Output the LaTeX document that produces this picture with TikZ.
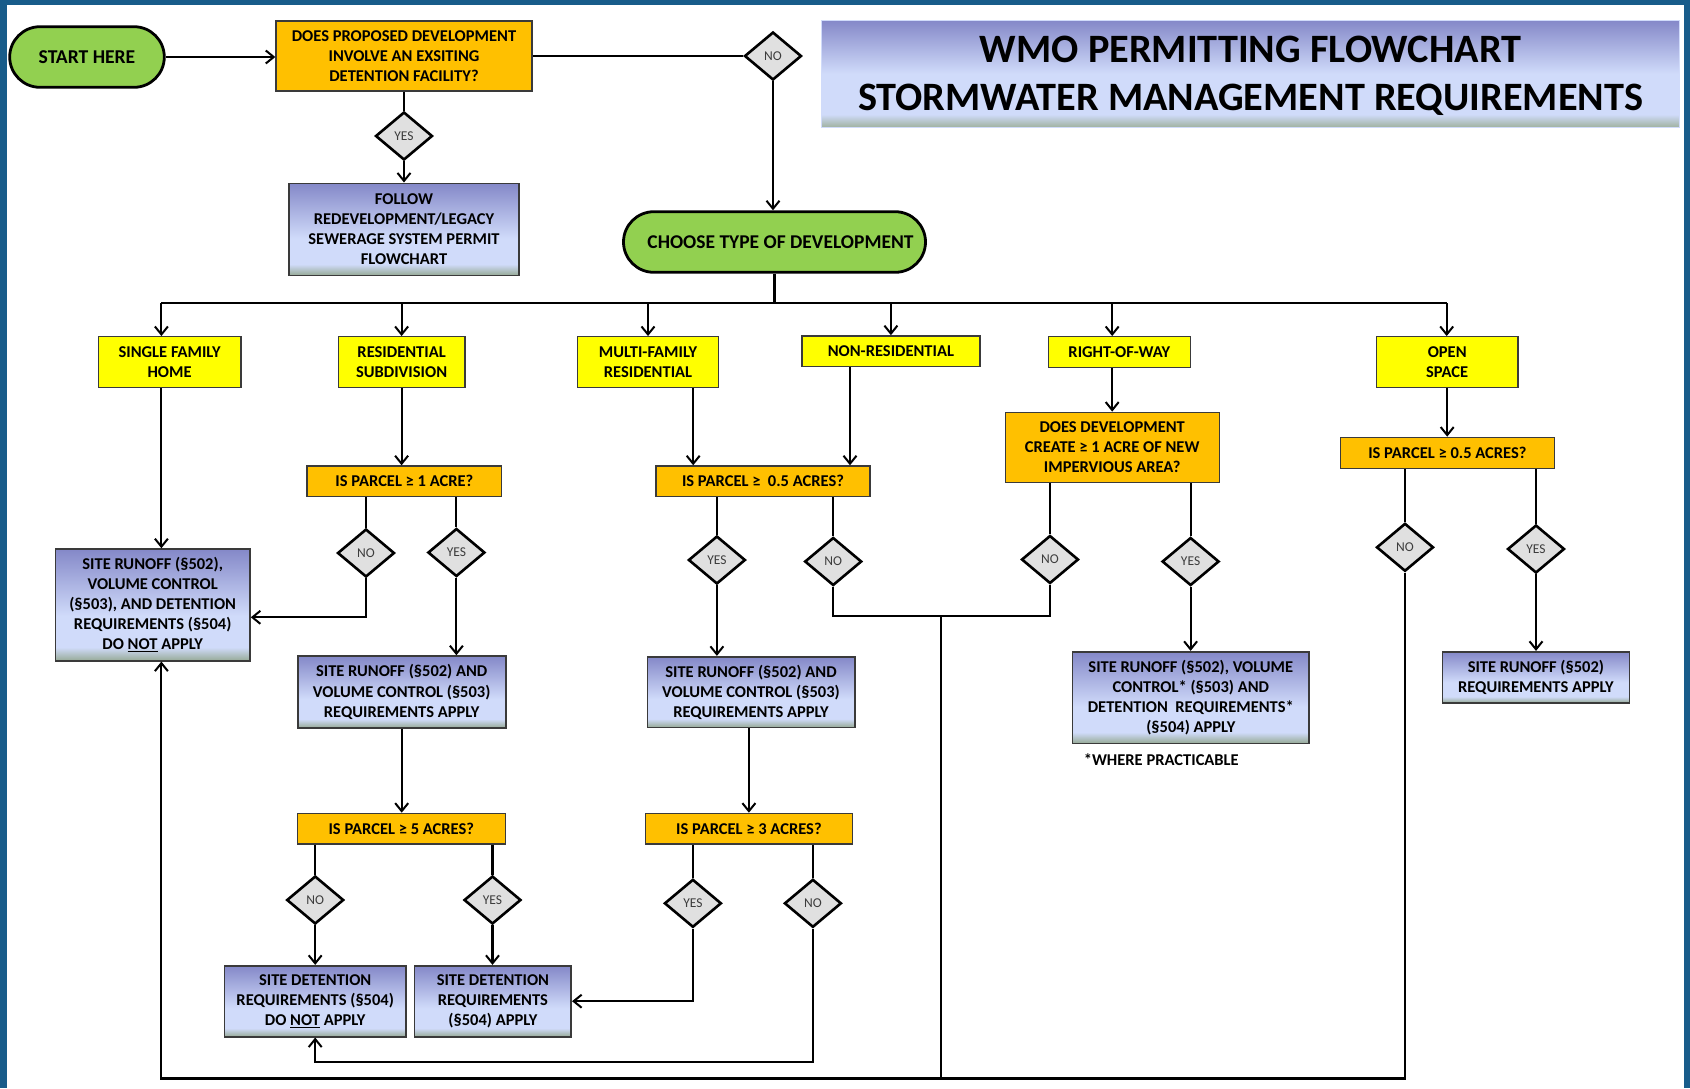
\documentclass[tikz,border=0pt]{standalone}
\usepackage{fontspec}
\setmainfont{Carlito}
\usetikzlibrary{shapes.geometric,shapes.misc,arrows.meta}
\definecolor{framecol}{RGB}{24,92,138}
\definecolor{tgreen}{RGB}{146,208,80}
\definecolor{qorange}{RGB}{255,192,0}
\definecolor{cyellow}{RGB}{255,255,0}
\definecolor{dgray}{RGB}{224,224,224}
\definecolor{diatext}{RGB}{60,60,60}
\definecolor{edgegray}{RGB}{58,58,58}
\definecolor{rpurple}{RGB}{132,136,200}
\definecolor{rlight}{RGB}{208,219,250}
\definecolor{rgreen}{RGB}{150,170,150}
\definecolor{tlgreen}{RGB}{160,178,160}
\pgfdeclareverticalshading{resshade}{100bp}{color(0bp)=(rgreen); color(25bp)=(rgreen); color(31bp)=(rlight); color(45bp)=(rlight); color(75bp)=(rpurple); color(100bp)=(rpurple)}
\pgfdeclareverticalshading{titleshade}{100bp}{color(0bp)=(tlgreen); color(25bp)=(tlgreen); color(31bp)=(rlight); color(50bp)=(rlight); color(75bp)=(rpurple); color(100bp)=(rpurple)}
\newcommand{\bxf}{\fontsize{16.5}{20}\selectfont\bfseries}
\tikzset{
  conn/.style={line width=2.1pt, draw=black},
  arr/.style={conn, -{Straight Barb[length=8pt,width=13pt,line width=2pt]}},
  term/.style={rounded rectangle, rounded rectangle arc length=180, fill=tgreen, draw=black, line width=2.8pt, inner sep=0pt},
  basebox/.style={rectangle, inner sep=0pt, align=center, font=\bxf},
  qbox/.style={basebox, fill=qorange, draw=edgegray, line width=1.3pt},
  cbox/.style={basebox, fill=cyellow, draw=edgegray, line width=1.3pt},
  rbox/.style={basebox, shading=resshade, draw=edgegray, line width=1.6pt},
  dia/.style={diamond, fill=dgray, draw=black, line width=2.6pt, minimum width=57pt, minimum height=48pt, inner sep=0pt, font=\fontsize{13.5}{15}\selectfont, text=diatext},
}
\begin{document}
\begin{tikzpicture}[x=1pt,y=-1pt]
\useasboundingbox (0,0) rectangle (1690,1088);
\fill[framecol] (0,0) rectangle (1690,1088);
\fill[white] (7,5) rectangle (1684,1088);

% top
\node[term, minimum width=154.6pt, minimum height=60.6pt, font=\fontsize{19.6}{22}\selectfont\bfseries] (start) at (87,57) {START HERE};
\node[qbox, minimum width=256pt, minimum height=70pt] (q1) at (404,56) {DOES PROPOSED DEVELOPMENT\\INVOLVE AN EXSITING\\DETENTION FACILITY?};
\node[dia] (nod) at (773,56) {NO};
\node[dia] (yesd) at (404,136) {YES};
\node[rbox, minimum width=230pt, minimum height=92pt] (follow) at (404,229.3) {FOLLOW\\REDEVELOPMENT/LEGACY\\SEWERAGE SYSTEM PERMIT\\FLOWCHART};
\node[basebox, shading=titleshade, draw=rlight, line width=1pt, minimum width=858pt, minimum height=107pt] (title) at (1250.6,73.7) {};
\node[basebox, font=\fontsize{40.3}{48}\selectfont\bfseries] (titletext) at (1250.6,76) {WMO PERMITTING FLOWCHART\\STORMWATER MANAGEMENT REQUIREMENTS};
\node[term, minimum width=302pt, minimum height=60.6pt, font=\fontsize{19.5}{23}\selectfont\bfseries] (choose) at (774.5,242) {\hspace*{12pt}CHOOSE TYPE OF DEVELOPMENT};

% categories
\node[cbox, minimum width=142.8pt, minimum height=51pt] (sfh) at (169.6,362.2) {SINGLE FAMILY\\HOME};
\node[cbox, minimum width=126.8pt, minimum height=51pt] (rsub) at (401.6,362.2) {RESIDENTIAL\\SUBDIVISION};
\node[cbox, minimum width=141.6pt, minimum height=51pt] (mfr) at (648,362.2) {MULTI-FAMILY\\RESIDENTIAL};
\node[cbox, minimum width=178pt, minimum height=30.3pt] (nonres) at (890.9,351) {NON-RESIDENTIAL};
\node[cbox, minimum width=141.7pt, minimum height=31pt] (row) at (1119.3,352.2) {RIGHT-OF-WAY};
\node[cbox, minimum width=141.7pt, minimum height=51pt] (open) at (1447.2,362.2) {OPEN\\SPACE};

% questions
\node[qbox, minimum width=194.8pt, minimum height=30.7pt] (p1) at (404.4,481.3) {IS PARCEL ≥ 1 ACRE?};
\node[qbox, minimum width=214pt, minimum height=30.7pt] (p05) at (763,481.3) {IS PARCEL ≥ \ 0.5 ACRES?};
\node[qbox, minimum width=214pt, minimum height=70.4pt] (rowq) at (1112.2,447.5) {DOES DEVELOPMENT\\CREATE ≥ 1 ACRE OF NEW\\IMPERVIOUS AREA?};
\node[qbox, minimum width=214.4pt, minimum height=31pt] (p05o) at (1447.4,452.8) {IS PARCEL ≥ 0.5 ACRES?};
\node[qbox, minimum width=207.8pt, minimum height=30.7pt] (p5) at (401.3,828.7) {IS PARCEL ≥ 5 ACRES?};
\node[qbox, minimum width=207.3pt, minimum height=30.7pt] (p3) at (748.9,828.7) {IS PARCEL ≥ 3 ACRES?};

% results
\node[rbox, minimum width=194.6pt, minimum height=111.7pt] (rleft) at (152.7,604.9) {SITE RUNOFF (§502),\\VOLUME CONTROL\\(§503), AND DETENTION\\REQUIREMENTS (§504)\\DO \underline{NOT} APPLY};
\node[rbox, minimum width=208pt, minimum height=71.7pt] (rsubsr) at (401.7,691.9) {SITE RUNOFF (§502) AND\\VOLUME CONTROL (§503)\\REQUIREMENTS APPLY};
\node[rbox, minimum width=207.4pt, minimum height=70.6pt] (mfsr) at (751,692) {SITE RUNOFF (§502) AND\\VOLUME CONTROL (§503)\\REQUIREMENTS APPLY};
\node[rbox, minimum width=236.4pt, minimum height=91.6pt] (rowsr) at (1190.8,697.5) {SITE RUNOFF (§502), VOLUME\\CONTROL* (§503) AND\\DETENTION \ REQUIREMENTS*\\(§504) APPLY};
\node[rbox, minimum width=187pt, minimum height=51pt] (opensr) at (1535.9,677.2) {SITE RUNOFF (§502)\\REQUIREMENTS APPLY};
\node[rbox, minimum width=181.4pt, minimum height=71pt] (detno) at (315.2,1001.2) {SITE DETENTION\\REQUIREMENTS (§504)\\DO \underline{NOT} APPLY};
\node[rbox, minimum width=156.7pt, minimum height=71pt] (detyes) at (492.9,1001.2) {SITE DETENTION\\REQUIREMENTS\\(§504) APPLY};
\node[anchor=west, inner sep=0pt, font=\bxf] (note) at (1083.6,759.3) {*WHERE PRACTICABLE};

% decision diamonds
\node[dia] (d1no) at (366,553) {NO};
\node[dia] (d1yes) at (456.4,552.5) {YES};
\node[dia] (d05yes) at (716.9,560) {YES};
\node[dia] (d05no) at (833.2,561.5) {NO};
\node[dia] (drowno) at (1050,559.5) {NO};
\node[dia] (drowyes) at (1190.6,561.5) {YES};
\node[dia] (dono) at (1405,547.3) {NO};
\node[dia] (doyes) at (1536,549) {YES};
\node[dia] (d5no) at (315.2,900) {NO};
\node[dia] (d5yes) at (492.5,900) {YES};
\node[dia] (d3yes) at (692.9,903.3) {YES};
\node[dia] (d3no) at (812.9,903.3) {NO};

% helper coordinates
\coordinate (busL) at (161.4,303);
\coordinate (busR) at (1446.7,303);
\coordinate (xmf) at (693.2,0);
\coordinate (xnr) at (850,0);
\coordinate (y1) at (0,617.3);
\coordinate (y2) at (0,615.7);
\coordinate (jn) at (941,615.7);
\coordinate (y3) at (0,1061.7);
\coordinate (ybot) at (0,1078.5);

% connectors top
\draw[arr] (start.east) -- (start.east -| q1.west);
\draw[conn] (q1.east) -- (nod.west);
\draw[arr] (nod.south) -- (nod.south |- choose.north);
\draw[conn] (q1.south) -- (yesd.north);
\draw[arr] (yesd.south) -- (follow.north);
\draw[conn] (choose.south) -- (choose.south |- busL);
\draw[conn] (busL) -- (busR);
\draw[arr] (busL) -- (busL |- sfh.north);
\draw[arr] (rsub.north |- busL) -- (rsub.north);
\draw[arr] (mfr.north |- busL) -- (mfr.north);
\draw[arr] (nonres.north |- busL) -- (nonres.north);
\draw[arr] (rowq.north |- busL) -- (rowq.north |- row.north);
\draw[arr] (busR) -- (busR |- open.north);

% single family / residential subdivision
\draw[arr] (busL |- sfh.south) -- (busL |- rleft.north);
\draw[arr] (rsub.south) -- (rsub.south |- p1.north);
\draw[conn] (d1no.north |- p1.south) -- (d1no.north);
\draw[arr] (d1no.south) -- (d1no.south |- y1) -- (rleft.east |- y1);
\draw[conn] (d1yes.north |- p1.south) -- (d1yes.north);
\draw[arr] (d1yes.south) -- (d1yes.south |- rsubsr.north);
\draw[arr] (rsubsr.south) -- (rsubsr.south |- p5.north);
\draw[conn] (d5no.north |- p5.south) -- (d5no.north);
\draw[arr] (d5no.south) -- (d5no.south |- detno.north);
\draw[conn] (d5yes.north |- p5.south) -- (d5yes.north);
\draw[arr] (d5yes.south) -- (d5yes.south |- detyes.north);

% multi-family / non-residential
\draw[arr] (xmf |- mfr.south) -- (xmf |- p05.north);
\draw[arr] (xnr |- nonres.south) -- (xnr |- p05.north);
\draw[conn] (d05yes.north |- p05.south) -- (d05yes.north);
\draw[arr] (d05yes.south) -- (d05yes.south |- mfsr.north);
\draw[conn] (d05no.north |- p05.south) -- (d05no.north);
\draw[conn] (d05no.south) -- (d05no.south |- y2) -- (drowno.south |- y2) -- (drowno.south);
\draw[conn] (jn) -- (jn |- ybot);
\draw[arr] (p3.north |- mfsr.south) -- (p3.north);
\draw[conn] (d3yes.north |- p3.south) -- (d3yes.north);
\draw[arr] (d3yes.south) -- (d3yes.south |- detyes.east) -- (detyes.east);
\draw[conn] (d3no.north |- p3.south) -- (d3no.north);
\draw[arr] (d3no.south) -- (d3no.south |- y3) -- (detno.south |- y3) -- (detno.south);

% right-of-way
\draw[arr] (rowq.north |- row.south) -- (rowq.north);
\draw[conn] (drowno.north |- rowq.south) -- (drowno.north);
\draw[conn] (drowyes.north |- rowq.south) -- (drowyes.north);
\draw[arr] (drowyes.south) -- (drowyes.south |- rowsr.north);

% open space
\draw[arr] (open.south) -- (open.south |- p05o.north);
\draw[conn] (dono.north |- p05o.south) -- (dono.north);
\draw[conn] (doyes.north |- p05o.south) -- (doyes.north);
\draw[arr] (doyes.south) -- (doyes.south |- opensr.north);
\draw[arr] (dono.south) -- (dono.south |- ybot) -- (busL |- ybot) -- (busL |- rleft.south);
\end{tikzpicture}
\end{document}
